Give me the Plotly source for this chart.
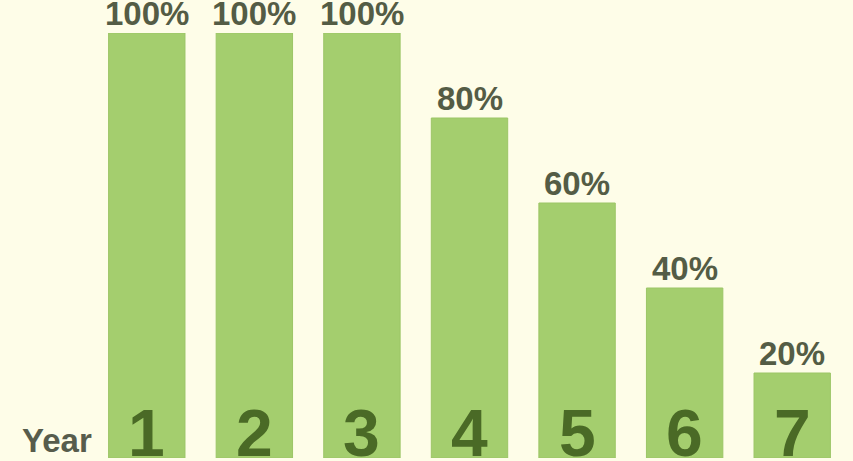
import plotly.graph_objects as go

years = ["1", "2", "3", "4", "5", "6", "7"]
percent = [100, 100, 100, 80, 60, 40, 20]
pct_labels = ["100%", "100%", "100%", "80%", "60%", "40%", "20%"]

BG = "#FEFDE8"
BAR = "#A4CE6E"
LABEL = "#545C45"
DIGIT = "#4A6A26"
FONT = "Liberation Sans, Arial, sans-serif"

ML, MR, MT, MB = 93, 7, 33, 3

fig = go.Figure()
fig.add_trace(go.Bar(
    x=years, y=percent, cliponaxis=False,
    marker=dict(color=BAR, line=dict(color="#9CC566", width=1)),
    hoverinfo="skip",
))

for i, (y, v, lab) in enumerate(zip(years, percent, pct_labels)):
    fig.add_annotation(x=i, y=v, xref="x", yref="y", text=lab, showarrow=False,
                       yanchor="bottom", yshift=-1,
                       font=dict(family=FONT, size=33, color=LABEL, weight="bold"))
    fig.add_annotation(x=i, y=0, xref="x", yref="y", text=y, showarrow=False,
                       yanchor="bottom", yshift=-14,
                       font=dict(family=FONT, size=66, color=DIGIT, weight="bold"))

fig.add_annotation(x=(57 - ML) / (853 - ML - MR), y=0, xref="paper", yref="paper",
                   text="Year", showarrow=False, xanchor="center", yanchor="bottom",
                   yshift=-3,
                   font=dict(family=FONT, size=33, color="#575C4C", weight="bold"))

fig.update_layout(
    width=853, height=461,
    margin=dict(l=ML, r=MR, t=MT, b=MB),
    paper_bgcolor=BG, plot_bgcolor=BG,
    bargap=0.29,
    showlegend=False,
    xaxis=dict(visible=False, type="category", range=[-0.5, 6.5]),
    yaxis=dict(visible=False, range=[0, 100]),
)

fig.write_html("out.html", config={"displayModeBar": False},
               post_script="document.body.style.margin='0';document.body.style.background='%s';" % BG)
